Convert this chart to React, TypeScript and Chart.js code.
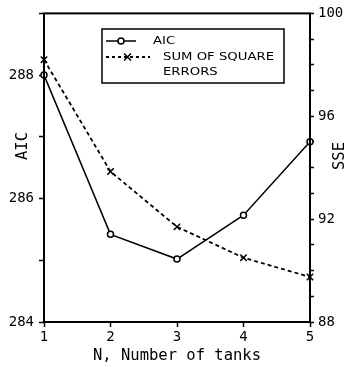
import React, { useEffect, useRef } from "react";
import { Chart, registerables } from "chart.js";

Chart.register(...registerables);

// ---- data ----
const tanks = [1, 2, 3, 4, 5];
const aicValues = [288.0, 285.42, 285.02, 285.73, 286.92];
const sseValues = [98.2, 93.85, 91.7, 90.5, 89.75];
const aicLabeledTicks = [284, 286, 288];
const sseLabeledTicks = [88, 92, 96, 100];
const xTitle = "N, Number of tanks";
const aicTitle = "AIC";
const sseTitle = "SSE";
const legendAicLines = ["AIC"];
const legendSseLines = ["SUM OF SQUARE", "ERRORS"];

const MONO = "'DejaVu Sans Mono', monospace";
const SANS = "'DejaVu Sans', sans-serif";

const framePlugin = {
  id: "frame",
  afterDatasetsDraw(chart: any) {
    const { ctx, chartArea } = chart;
    ctx.save();
    ctx.strokeStyle = "#000";
    ctx.lineWidth = 2;
    ctx.strokeRect(chartArea.left, chartArea.top, chartArea.right - chartArea.left, chartArea.bottom - chartArea.top);
    ctx.restore();
  },
};

const yTitlesPlugin = {
  id: "yTitles",
  afterDraw(chart: any) {
    const { ctx } = chart;
    const draw = (text: string, x: number, y: number) => {
      ctx.save();
      ctx.translate(x, y);
      ctx.rotate(-Math.PI / 2);
      ctx.fillStyle = "#000";
      ctx.font = `15.5px ${MONO}`;
      ctx.textAlign = "center";
      ctx.textBaseline = "middle";
      ctx.fillText(text, 0, 0);
      ctx.restore();
    };
    draw(aicTitle, 23, 146);
    draw(sseTitle, 340, 156);
  },
};

const legendPlugin = {
  id: "boxLegend",
  afterDatasetsDraw(chart: any) {
    const { ctx } = chart;
    const bx = 102, by = 29, bw = 182, bh = 54;
    ctx.save();
    ctx.fillStyle = "#fff";
    ctx.fillRect(bx, by, bw, bh);
    ctx.strokeStyle = "#000";
    ctx.lineWidth = 1.5;
    ctx.strokeRect(bx, by, bw, bh);

    const drawText = (t: string, x: number, y: number) => {
      ctx.save();
      ctx.translate(x, y);
      ctx.scale(1.26, 1);
      ctx.fillStyle = "#000";
      ctx.font = `10.5px ${SANS}`;
      ctx.textAlign = "left";
      ctx.textBaseline = "middle";
      ctx.fillText(t, 0, 0);
      ctx.restore();
    };

    // AIC row
    const y1 = 41;
    ctx.beginPath();
    ctx.setLineDash([]);
    ctx.lineWidth = 1.5;
    ctx.moveTo(106, y1);
    ctx.lineTo(136, y1);
    ctx.stroke();
    ctx.beginPath();
    ctx.arc(121, y1, 3, 0, Math.PI * 2);
    ctx.fillStyle = "#fff";
    ctx.fill();
    ctx.stroke();
    legendAicLines.forEach((t, i) => drawText(t, 153, y1 + i * 15));

    // SSE row
    const y2 = 57;
    ctx.beginPath();
    ctx.setLineDash([3, 3]);
    ctx.lineWidth = 1.8;
    ctx.moveTo(106, y2);
    ctx.lineTo(150, y2);
    ctx.stroke();
    ctx.setLineDash([]);
    ctx.lineWidth = 1.5;
    ctx.beginPath();
    ctx.moveTo(124, y2 - 3.5);
    ctx.lineTo(131, y2 + 3.5);
    ctx.moveTo(131, y2 - 3.5);
    ctx.lineTo(124, y2 + 3.5);
    ctx.stroke();
    legendSseLines.forEach((t, i) => drawText(t, 163, y2 + i * 15));
    ctx.restore();
  },
};

export default function App() {
  const ref = useRef<HTMLCanvasElement | null>(null);

  useEffect(() => {
    if (!ref.current) return;
    const tickFont = { family: MONO, size: 14 };
    const chart = new Chart(ref.current, {
      type: "line",
      data: {
        datasets: [
          {
            label: "AIC",
            data: tanks.map((x, i) => ({ x, y: aicValues[i] })),
            yAxisID: "y",
            borderColor: "#000",
            borderWidth: 1.5,
            pointStyle: "circle",
            pointRadius: 3,
            pointBorderWidth: 1.5,
            pointBackgroundColor: "#fff",
            pointBorderColor: "#000",
            tension: 0,
            clip: false,
          } as any,
          {
            label: "SSE",
            data: tanks.map((x, i) => ({ x, y: sseValues[i] })),
            yAxisID: "y1",
            borderColor: "#000",
            borderWidth: 1.8,
            borderDash: [4, 3],
            pointStyle: "crossRot",
            pointRadius: 4.5,
            pointBorderWidth: 1.5,
            pointBackgroundColor: "#000",
            pointBorderColor: "#000",
            tension: 0,
            clip: false,
          } as any,
        ],
      },
      options: {
        animation: false,
        responsive: false,
        devicePixelRatio: 1,
        layout: { padding: { top: 12, left: 0, right: 0, bottom: 0 } },
        plugins: { legend: { display: false }, tooltip: { enabled: false } },
        scales: {
          x: {
            type: "linear",
            position: "bottom",
            min: 1,
            max: 5,
            afterFit: (s: any) => { s.height = 45; },
            ticks: { stepSize: 1, color: "#000", font: tickFont, padding: 2, maxRotation: 0 },
            grid: { display: true, drawOnChartArea: false, drawTicks: true, tickLength: 5, tickColor: "#000", tickWidth: 1.5 },
            border: { display: false },
            title: { display: true, text: xTitle, color: "#000", font: { family: MONO, size: 15.5, lineHeight: 1 }, padding: { top: 0, bottom: 3 } },
          },
          y: {
            type: "linear",
            position: "left",
            min: 284,
            max: 289,
            afterFit: (s: any) => { s.width = 44; },
            ticks: {
              stepSize: 1,
              color: "#000",
              font: tickFont,
              padding: 5,
              callback: (v: any) => (aicLabeledTicks.includes(Number(v)) ? String(v) : ""),
            },
            grid: { display: true, drawOnChartArea: false, drawTicks: true, tickLength: 5, tickColor: "#000", tickWidth: 1.5 },
            border: { display: false },
          },
          y1: {
            type: "linear",
            position: "right",
            min: 88,
            max: 100,
            afterFit: (s: any) => { s.width = 37; },
            ticks: {
              stepSize: 1,
              color: "#000",
              font: tickFont,
              padding: 4,
              autoSkip: false,
              callback: (v: any) => (sseLabeledTicks.includes(Number(v)) ? String(v) : ""),
            },
            grid: { display: true, drawOnChartArea: false, drawTicks: true, tickLength: 4, tickColor: "#000", tickWidth: 1.5 },
            border: { display: false },
          },
        },
      } as any,
      plugins: [framePlugin, legendPlugin, yTitlesPlugin],
    });
    return () => chart.destroy();
  }, []);

  return (
    <div style={{ position: "fixed", left: 0, top: 0, width: 347, height: 367, background: "#fff" }}>
      <canvas ref={ref} width={347} height={367} style={{ display: "block", width: 347, height: 367 }} />
    </div>
  );
}
